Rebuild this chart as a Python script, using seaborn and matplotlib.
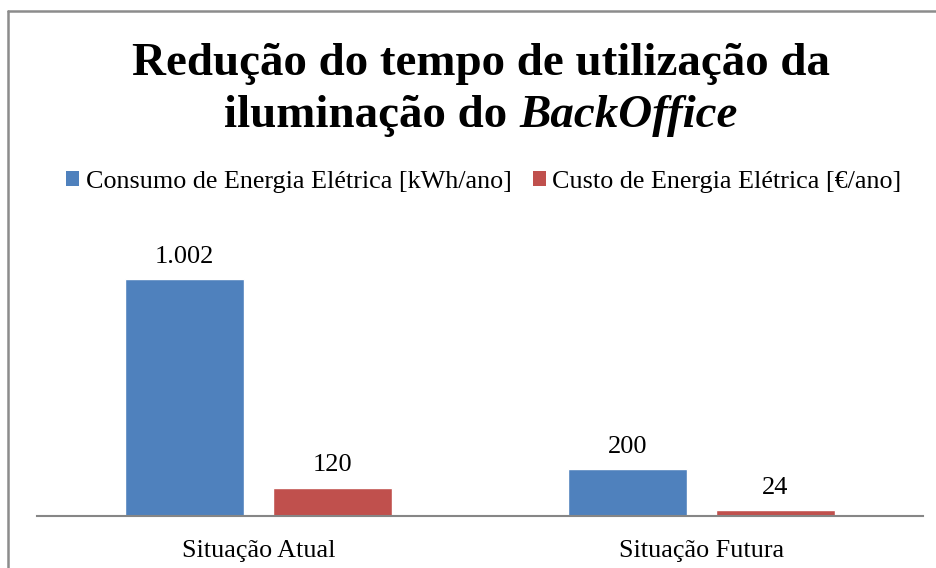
import matplotlib
matplotlib.use('Agg')
import matplotlib.pyplot as plt
from matplotlib.lines import Line2D
from matplotlib.patches import Patch
import seaborn as sns
import pandas as pd

# data
categories = ['Situação Atual', 'Situação Futura']
series = ['Consumo de Energia Elétrica [kWh/ano]', 'Custo de Energia Elétrica [€/ano]']
consumo = [1002, 200]
custo = [120, 24]
labels_consumo = ['1.002', '200']
labels_custo = ['120', '24']

colors = ['#4F81BD', '#C0504D']

df = pd.DataFrame({
    'situacao': categories * 2,
    'serie': [series[0]] * 2 + [series[1]] * 2,
    'valor': consumo + custo,
})

sns.set_style('white')
plt.rcParams['font.family'] = ['Liberation Serif', 'DejaVu Serif']
plt.rcParams['text.color'] = 'black'
plt.rcParams['xtick.color'] = 'black'

W, H = 937, 568
fig = plt.figure(figsize=(W / 100, H / 100), dpi=100)

# axes placed in pixel terms: x 37..923, baseline at y=516
ax_left, ax_right = 37, 923
ax_bottom, ax_top = 516, 232
ax = fig.add_axes([ax_left / W, 1 - ax_bottom / H,
                   (ax_right - ax_left) / W, (ax_bottom - ax_top) / H])

sns.barplot(data=df, x='situacao', y='valor', hue='serie', order=categories,
            hue_order=series, palette=colors, width=0.668, gap=0.2,
            saturation=1, legend=False, ax=ax)

ax.set_ylim(0, 1200)
ax.set_xlim(-0.5, 1.5)
ax.set_xlabel('')
ax.set_ylabel('')
ax.set_yticks([])
for s in ['top', 'right', 'left']:
    ax.spines[s].set_visible(False)
ax.spines['bottom'].set_color('#868686')
ax.spines['bottom'].set_linewidth(1.5)
ax.tick_params(axis='x', length=0, pad=17, labelsize=18.8, labelcolor='black')

for cont, labs in zip(ax.containers, [labels_consumo, labels_custo]):
    ax.bar_label(cont, labels=labs, padding=8, fontsize=19, color='black')

# legend
handles = [Patch(facecolor=c, edgecolor='none') for c in colors]
fig.legend(handles, series, loc='center', bbox_to_anchor=(484 / W, 1 - 182 / H),
           ncol=2, frameon=False, fontsize=18.8, handlelength=0.5, handleheight=0.5,
           handletextpad=0.25, columnspacing=0.8, labelcolor='black')

# title, second line with bold italic BackOffice
fig.text(481 / W, 1 - 64 / H, 'Redução do tempo de utilização da',
         ha='center', va='center', fontsize=33.8, fontweight='bold', color='black')
renderer = fig.canvas.get_renderer()
t1 = fig.text(0, 1 - 116 / H, 'iluminação do ', ha='left', va='center',
              fontsize=33.8, fontweight='bold', color='black')
t2 = fig.text(0, 1 - 116 / H, 'BackOffice', ha='left', va='center',
              fontsize=33.8, fontweight='bold', fontstyle='italic', color='black')
w1 = t1.get_window_extent(renderer).width
w2 = t2.get_window_extent(renderer).width
x0 = 481 - (w1 + w2) / 2
t1.set_x(x0 / W)
t2.set_x((x0 + w1) / W)

# chart frame (left and top edges visible)
fig.add_artist(Line2D([8 / W, 8 / W], [0, 1 - 11 / H], color='#8C8C8C', lw=1.8))
fig.add_artist(Line2D([8 / W, 1], [1 - 11 / H, 1 - 11 / H], color='#8C8C8C', lw=1.8))

fig.savefig('out.png', dpi=100, facecolor='white')
